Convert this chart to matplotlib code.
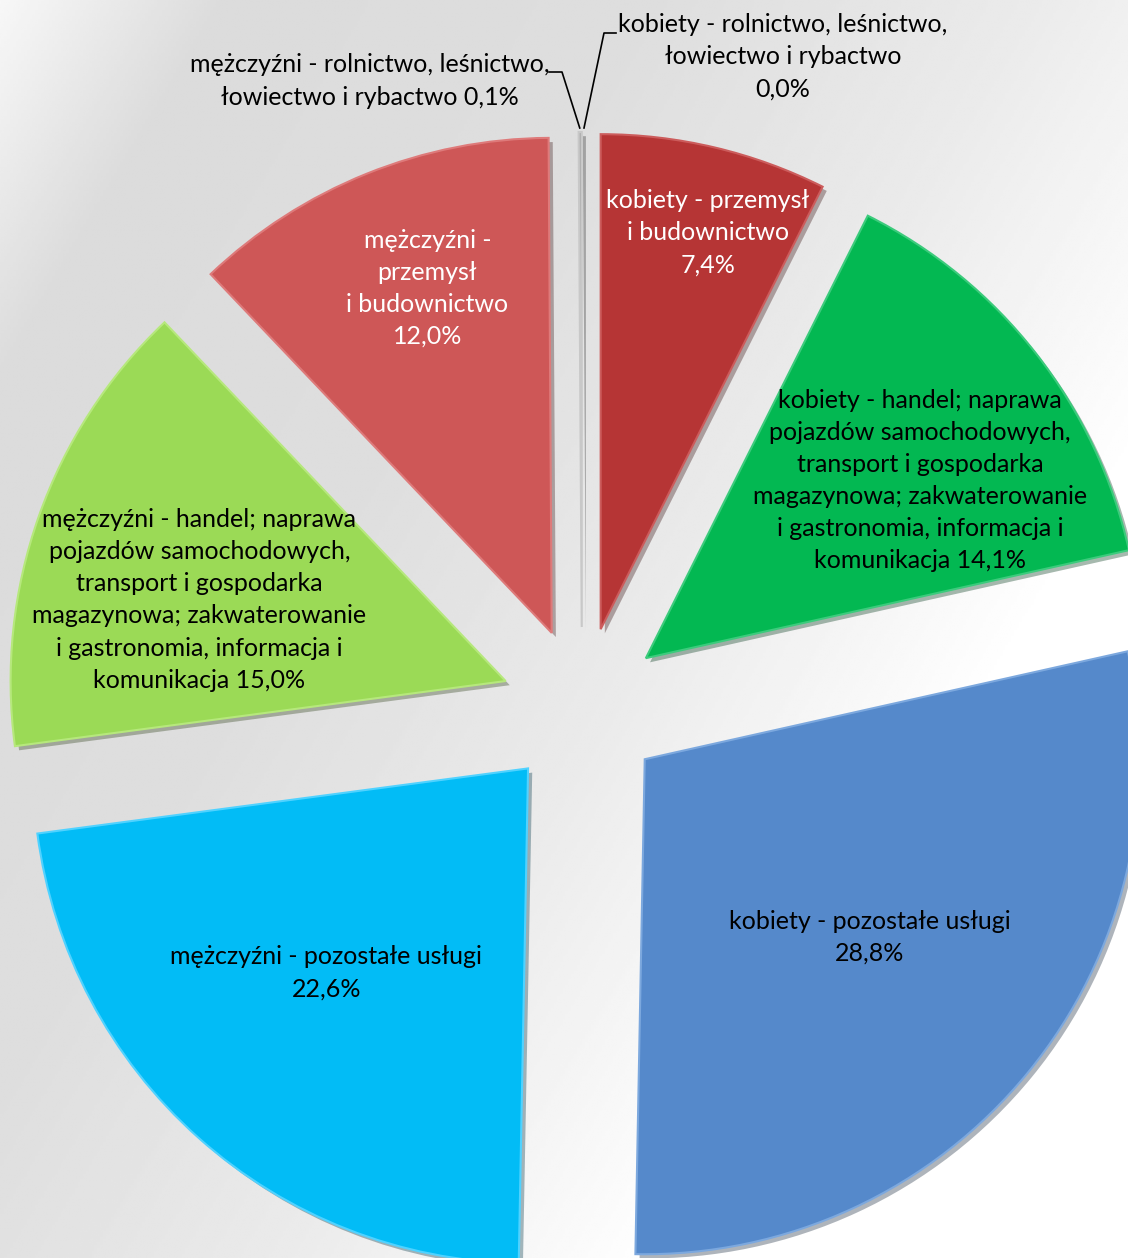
import matplotlib.pyplot as plt
import matplotlib.patheffects as pe
import numpy as np

# udzial pracujacych wg sekcji i plci (%), od gory zgodnie z ruchem wskazowek
sectors = [
    "kobiety - rolnictwo, leśnictwo,\nłowiectwo i rybactwo",
    "kobiety - przemysł\ni budownictwo",
    "kobiety - handel; naprawa\npojazdów samochodowych,\ntransport i gospodarka\nmagazynowa; zakwaterowanie\ni gastronomia, informacja i\nkomunikacja",
    "kobiety - pozostałe usługi",
    "mężczyźni - pozostałe usługi",
    "mężczyźni - handel; naprawa\npojazdów samochodowych,\ntransport i gospodarka\nmagazynowa; zakwaterowanie\ni gastronomia, informacja i\nkomunikacja",
    "mężczyźni -\nprzemysł\ni budownictwo",
    "mężczyźni - rolnictwo, leśnictwo,\nłowiectwo i rybactwo",
]
shares = [0.0, 7.4, 14.1, 28.8, 22.6, 15.0, 12.0, 0.1]

colors = ["#A8A8A8", "#B63535", "#03B852", "#5589CB",
          "#02BCF6", "#9BDA56", "#CE5757", "#A8A8A8"]
edges = ["#C8C8C8", "#CC5C5C", "#3CCB7C", "#7CA8DE",
         "#50D2FF", "#B6E87C", "#DE7A7A", "#C8C8C8"]
txt_col = ["black", "white", "black", "black", "black", "black", "white", "black"]
pct_sep = ["\n", "\n", " ", "\n", "\n", " ", "\n", " "]

# rozmieszczenie etykiet wewnatrz wycinkow (odleglosc, przesuniecie kata)
lab_dist = [None, 0.83, 0.66, 0.58, 0.58, 0.64, 0.74, None]
lab_shift = [0, 1.8, 5.0, -0.9, 2.9, -4.6, 2.1, 0]

W, H = 1128, 1258
cx, cy, R = 582, 708, 495   # srodek i promien w pikselach
expl = 81 / R


def px(x, y):
    return (x - cx) / R, (cy - y) / R


fig = plt.figure(figsize=(W / 100, H / 100), dpi=100)
ax = fig.add_axes([0, 0, 1, 1])
x0, y1 = px(0, 0)
x1, y0 = px(W, H)

# tlo - szary gradient po przekatnej
gx, gy = np.meshgrid(np.linspace(0, 1, 400), np.linspace(0, 1, 440))
s = 0.6 * gx + 0.4 * gy
g = np.interp(s, [0.0, 0.12, 0.35, 0.55, 0.75, 1.0],
              [0.97, 0.86, 0.87, 0.92, 1.0, 1.0])
ax.imshow(g, cmap="gray", vmin=0, vmax=1, extent=[x0, x1, y0, y1],
          aspect="auto", zorder=0, interpolation="bilinear")

wedges, _ = ax.pie(shares, startangle=90, counterclock=False,
                   explode=[expl] * len(shares), colors=colors, radius=1,
                   wedgeprops=dict(linewidth=1.5))
for w, ec, v in zip(wedges, edges, shares):
    w.set_zorder(2)
    if v == 0:
        w.set_visible(False)
        continue
    w.set_edgecolor(ec)
    w.set_path_effects([pe.SimplePatchShadow(offset=(3, -3), alpha=0.35), pe.Normal()])

font = "Lato"
fs = 18
ls = 1.48
cum = np.cumsum([0] + shares)
for i, (name, v) in enumerate(zip(sectors, shares)):
    label = name + pct_sep[i] + f"{v:.1f}".replace(".", ",") + "%"
    mid = 3.6 * (cum[i] + cum[i + 1]) / 2
    ax_x = expl * np.sin(np.radians(mid))
    ax_y = expl * np.cos(np.radians(mid))
    if lab_dist[i] is not None:
        a = np.radians(mid + lab_shift[i])
        tx = ax_x + lab_dist[i] * np.sin(a)
        ty = ax_y + lab_dist[i] * np.cos(a)
        ax.text(tx, ty, label, ha="center", va="center", color=txt_col[i],
                fontsize=fs, family=font, linespacing=ls, zorder=5)
    else:
        # etykiety zewnetrzne z linia odniesienia
        top = (ax_x, ax_y + 1.0)
        if i == 0:
            tx, ty = px(783, 57)
            elbow, end = px(604, 33), px(616, 33)
            top = (top[0] + 2 / R, top[1] + 4 / R)
        else:
            tx, ty = px(370, 81)
            elbow, end = px(562, 72), px(549, 72)
            top = (top[0] - 2 / R, top[1] + 4 / R)
        ax.plot([top[0], elbow[0], end[0]], [top[1], elbow[1], end[1]],
                color="black", lw=1.2, zorder=4)
        ax.text(tx, ty, label, ha="center", va="center", color="black",
                fontsize=fs, family=font, linespacing=ls, zorder=5)

ax.set_xlim(x0, x1)
ax.set_ylim(y0, y1)
ax.set_aspect("auto")
ax.axis("off")
fig.savefig("out.png", dpi=100)
